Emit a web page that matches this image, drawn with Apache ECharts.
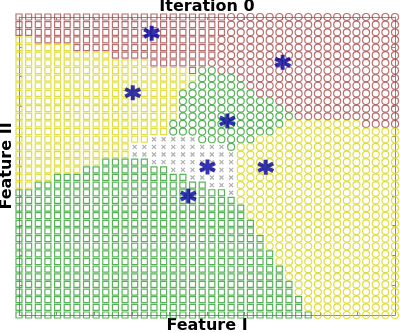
<!DOCTYPE html>
<html><head><meta charset="utf-8">
<script src="https://cdn.jsdelivr.net/npm/echarts@6/dist/echarts.min.js"></script>
<style>html,body{margin:0;padding:0;background:#fff}#c{width:400px;height:333px}</style>
</head><body><div id="c"></div>
<script>
// ---- data ----
const titleText = 'Iteration 0';
const xName = 'Feature I';
const yName = 'Feature II';
// grid of 40 x 40 sample points; each row (top to bottom) as runs of class codes
const rowRuns = [
  'A22 B18','A22 B18','A22 B18','C2 A19 B19','C6 A15 B19','C10 A11 B19','C14 A6 B20',
  'C18 A1 D2 B19','C19 D4 B17','C18 D6 B16','C17 D8 B15','C17 D10 B13','C17 D11 B12',
  'C17 D12 B11','C16 D12 F8 B4','C16 D11 F13','C14 E5 D6 F15','C12 E10 D1 F17',
  'C12 E11 F17','C9 G5 E9 F17','C7 G9 E7 F17','C4 G14 E5 F17','C2 G18 E3 F17',
  'G22 E1 F17','G23 F17','G24 F16','G24 F16','G25 F15','G25 F15','G26 F14','G26 F14',
  'G27 F13','G27 F13','G28 F12','G28 F12','G29 F11','G29 F11','G30 F10','G30 F10','G31 F9'
];
// prototype (asterisk) positions in grid units
const protoX = [13.76, 27.35, 11.80, 21.61, 19.55, 25.59, 17.56];
const protoY = [2.13, 5.93, 9.91, 13.61, 19.63, 19.67, 23.43];
const classCodes = ['A','B','C','D','E','F','G'];

// ---- styles ----
const RED = '#a84a4a', YEL = '#d8d614', GRN = '#2ea02e', GRY = '#9a9a9a';
const crossPath = 'path://M0,0L10,10M10,0L0,10';
const starPath = 'path://M5,0L5,10M0.67,2.5L9.33,7.5M0.67,7.5L9.33,2.5';
const styleOf = {
  A: {symbol: 'rect', size: 6, color: RED},
  B: {symbol: 'circle', size: 7, color: RED},
  C: {symbol: 'rect', size: 6, color: YEL},
  D: {symbol: 'circle', size: 7, color: GRN},
  E: {symbol: crossPath, size: 4, color: GRY},
  F: {symbol: 'circle', size: 7, color: YEL},
  G: {symbol: 'rect', size: 6, color: GRN}
};

// decode runs into per-class point lists
const pts = {};
classCodes.forEach(k => pts[k] = []);
rowRuns.forEach((runStr, r) => {
  let c = 0;
  runStr.split(' ').forEach(tok => {
    const k = tok[0], n = parseInt(tok.slice(1), 10);
    for (let i = 0; i < n; i++) { pts[k].push([c, r]); c++; }
  });
});

const series = classCodes.map(k => ({
  type: 'scatter', name: k, data: pts[k], clip: false,
  symbol: styleOf[k].symbol, symbolSize: styleOf[k].size,
  itemStyle: {color: 'rgba(0,0,0,0)', borderColor: styleOf[k].color, borderWidth: 1.2},
  emphasis: {disabled: true}, z: 3
}));
series.push({
  type: 'scatter', name: 'prototypes', clip: false, z: 5,
  data: protoX.map((x, i) => [x, protoY[i]]),
  symbol: starPath, symbolSize: 15,
  itemStyle: {color: 'rgba(0,0,0,0)', borderColor: '#00009c', borderWidth: 4},
  emphasis: {disabled: true}
});

const axisCommon = {
  type: 'value', min: 0, max: 39, interval: 3.9,
  axisLine: {show: true, onZero: false, lineStyle: {color: '#8a8a8a', width: 1}},
  axisTick: {show: true, inside: true, length: 3, lineStyle: {color: '#8a8a8a'}},
  axisLabel: {show: false}, splitLine: {show: false}
};
const nameStyle = {fontFamily: 'DejaVu Sans', fontWeight: 'bold', fontSize: 16, color: '#000'};

const chart = echarts.init(document.getElementById('c'), null, {renderer: 'canvas'});
chart.setOption({
  animation: false,
  backgroundColor: '#fff',
  title: {text: titleText, left: 207, top: -1, padding: 0, textAlign: 'center',
          textStyle: nameStyle},
  grid: {left: 19, right: 5, top: 17, bottom: 18, containLabel: false, outerBoundsMode: 'none'},
  xAxis: [
    Object.assign({}, axisCommon, {position: 'bottom', name: xName, nameLocation: 'middle',
      nameGap: 3, nameTextStyle: Object.assign({verticalAlign: 'top'}, nameStyle)}),
    Object.assign({}, axisCommon, {position: 'top'})
  ],
  yAxis: [
    Object.assign({}, axisCommon, {position: 'left', inverse: true, name: yName,
      nameLocation: 'middle', nameGap: 4, nameRotate: 90, nameTextStyle: nameStyle}),
    Object.assign({}, axisCommon, {position: 'right', inverse: true})
  ],
  series: series
});
</script></body></html>
